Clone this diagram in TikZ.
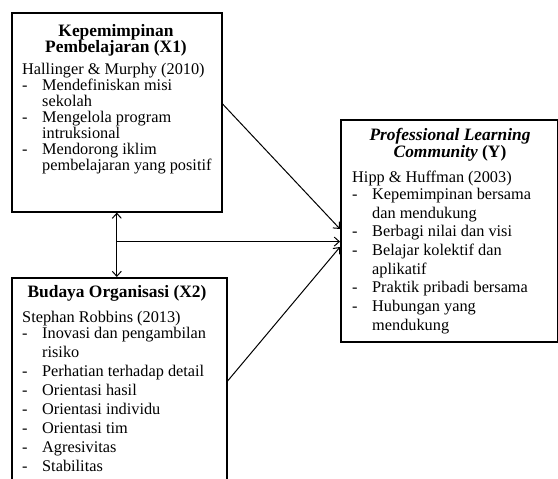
\documentclass[tikz,border=0pt]{standalone}
\usepackage{fontspec}
\setmainfont{Liberation Serif}
\usetikzlibrary{arrows.meta}

\newcommand{\butir}{\makebox[20pt][l]{-}}
\newcommand{\lanjut}{\hspace*{20pt}}

\tikzset{
  box/.style = {draw, line width = 1.6pt, rectangle, anchor = north west, inner sep = 0pt},
  judul/.style = {font = \fontsize{17.4}{16.5}\selectfont\bfseries, align = center, anchor = north, inner sep = 0pt},
  isi/.style = {align = left, anchor = north west, inner sep = 0pt},
  panah/.style = {line width = 1pt, -{Straight Barb[length = 5pt, width = 9pt]}},
  duapanah/.style = {line width = 1pt, {Straight Barb[length = 5pt, width = 9pt]}-{Straight Barb[length = 5pt, width = 9pt]}}
}

\begin{document}
\begin{tikzpicture}[x = 1pt, y = 1pt]
        \useasboundingbox (0, 0) rectangle (558, -479);

        % Boxes
        \node [box, minimum width = 210pt, minimum height = 199pt] (x1) at (11, -12) {};
        \node [box, minimum width = 215pt, minimum height = 230pt] (x2) at (11, -277) {};
        \node [box, minimum width = 217pt, minimum height = 222pt] (y) at (340, -119) {};

        % Titles
        \node [judul] (x1t) at (116, -24) {Kepemimpinan\\Pembelajaran (X1)};
        \node [judul] (x2t) at (117, -285) {Budaya Organisasi (X2)};
        \node [judul] (yt) at (450, -128) {\textit{Professional Learning}\\[0.5pt]\textit{Community} (Y)};

        % Indicators
        \node [isi, font = \fontsize{16.3}{16}\selectfont] (x1i) at (22, -63) {%
          Hallinger \& Murphy (2010)\\
          \butir Mendefiniskan misi\\
          \lanjut sekolah\\
          \butir Mengelola program\\
          \lanjut intruksional\\
          \butir Mendorong iklim\\
          \lanjut pembelajaran yang positif};
        \node [isi, font = \fontsize{16.3}{19}\selectfont] (x2i) at (22, -311) {%
          Stephan Robbins (2013)\\[-3pt]
          \butir Inovasi dan pengambilan\\
          \lanjut risiko\\
          \butir Perhatian terhadap detail\\
          \butir Orientasi hasil\\
          \butir Orientasi individu\\
          \butir Orientasi tim\\
          \butir Agresivitas\\
          \butir Stabilitas};
        \node [isi, font = \fontsize{16.3}{18.7}\selectfont] (yi) at (352, -171) {%
          Hipp \& Huffman (2003)\\[-2pt]
          \butir Kepemimpinan bersama\\
          \lanjut dan mendukung\\
          \butir Berbagi nilai dan visi\\
          \butir Belajar kolektif dan\\
          \lanjut aplikatif\\
          \butir Praktik pribadi bersama\\
          \butir Hubungan yang\\
          \lanjut mendukung};

        % Arrows
        \coordinate (tengah) at ([yshift = -29pt]x1.south);
        \draw [duapanah] (x1.south) -- (x1.south |- x2.north);
        \draw [panah] (tengah) -- (tengah -| y.west);
        \draw [panah] ([yshift = -92pt]x1.north east) -- ([yshift = -110pt]y.north west);
        \draw [panah] ([yshift = -104pt]x2.north east) -- ([yshift = -128pt]y.north west);

    \end{tikzpicture}
\end{document}
